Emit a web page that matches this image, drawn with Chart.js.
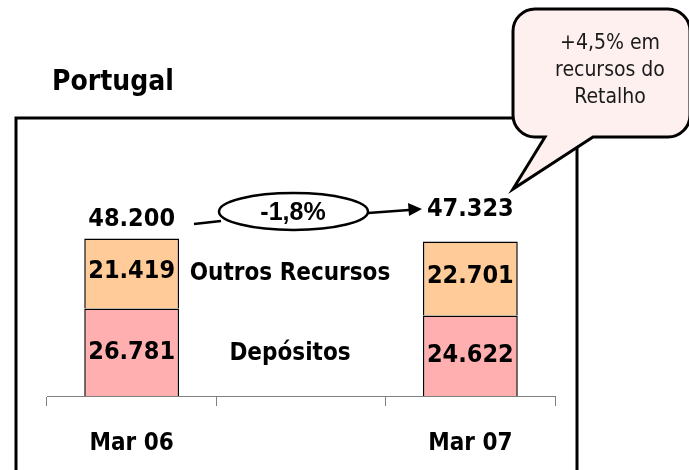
<!DOCTYPE html>
<html>
<head>
<meta charset="utf-8">
<script src="https://cdn.jsdelivr.net/npm/chart.js@4/dist/chart.umd.min.js"></script>
<style>
  html, body { margin: 0; padding: 0; background: #ffffff; }
  #chart { display: block; }
</style>
</head>
<body>
<canvas id="chart" width="689" height="470"></canvas>
<script>
// dados (milhares)
const categories = ["Mar 06", "", "Mar 07"];
const depositos = [26781, null, 24622];
const outrosRecursos = [21419, null, 22701];
const totais = [48200, null, 47323];
const seriesNames = ["Depósitos", "Outros Recursos"];
const variacao = "-1,8%";
const titulo = "Portugal";
const nota = ["+4,5% em", "recursos do", "Retalho"];

const FONT = '"DejaVu Sans Condensed", "DejaVu Sans", sans-serif';

// formato 26.781
function fmt(v) {
  const mil = Math.floor(v / 1000);
  const resto = String(v % 1000).padStart(3, "0");
  return mil + "." + resto;
}

// desenho extra: moldura, rótulos, elipse, balão
const decoracao = {
  id: "decoracao",
  beforeDraw(chart) {
    const ctx = chart.ctx;
    ctx.save();
    ctx.fillStyle = "#ffffff";
    ctx.fillRect(0, 0, chart.width, chart.height);
    ctx.strokeStyle = "#000000";
    ctx.lineWidth = 3;
    ctx.strokeRect(16, 118, 561, 380);
    ctx.fillStyle = "#000000";
    ctx.font = "bold 28px " + FONT;
    ctx.textAlign = "left";
    ctx.textBaseline = "middle";
    ctx.fillText(titulo, 52, 83);
    ctx.restore();
  },
  afterDatasetsDraw(chart) {
    const ctx = chart.ctx;
    const x = chart.scales.x;
    const y = chart.scales.y;
    ctx.save();
    ctx.fillStyle = "#000000";
    ctx.textAlign = "center";
    ctx.textBaseline = "middle";
    ctx.font = "bold 25px " + FONT;

    // valores dentro das barras
    categories.forEach((c, i) => {
      if (depositos[i] == null) return;
      const cx = x.getPixelForValue(i);
      const yd = (y.getPixelForValue(0) + y.getPixelForValue(depositos[i])) / 2;
      const yo = (y.getPixelForValue(depositos[i]) + y.getPixelForValue(depositos[i] + outrosRecursos[i])) / 2;
      ctx.fillText(fmt(depositos[i]), cx, yd);
      ctx.fillText(fmt(outrosRecursos[i]), cx, yo - 2);
    });

    // totais
    ctx.fillText(fmt(totais[0]), x.getPixelForValue(0), y.getPixelForValue(totais[0]) - 19);
    ctx.fillText(fmt(totais[2]), x.getPixelForValue(2), y.getPixelForValue(totais[2]) - 32);

    // nomes das séries na coluna do meio
    ctx.font = "bold 24px " + FONT;
    const mx = x.getPixelForValue(1) - 11;
    ctx.fillText(seriesNames[1], mx, (y.getPixelForValue(depositos[0]) + y.getPixelForValue(totais[0])) / 2);
    ctx.fillText(seriesNames[0], mx, (y.getPixelForValue(0) + y.getPixelForValue(depositos[0])) / 2 + 2);

    // elipse com variação
    ctx.strokeStyle = "#000000";
    ctx.lineWidth = 2.5;
    ctx.beginPath();
    ctx.moveTo(194, 224);
    ctx.lineTo(221, 221);
    ctx.stroke();
    ctx.beginPath();
    ctx.ellipse(293.5, 211.5, 74.5, 18.5, 0, 0, Math.PI * 2);
    ctx.stroke();
    ctx.beginPath();
    ctx.moveTo(368, 213);
    ctx.lineTo(409, 210);
    ctx.stroke();
    ctx.beginPath();
    ctx.moveTo(422, 209);
    ctx.lineTo(408, 203);
    ctx.lineTo(409, 216);
    ctx.closePath();
    ctx.fillStyle = "#000000";
    ctx.fill();
    ctx.font = 'bold 25px "Liberation Sans", Arial, sans-serif';
    ctx.fillText(variacao, 293, 213);

    // balão
    const l = 513, t = 9, r = 690, b = 137, rad = 22;
    ctx.beginPath();
    ctx.moveTo(l + rad, t);
    ctx.lineTo(r - rad, t);
    ctx.arcTo(r, t, r, t + rad, rad);
    ctx.lineTo(r, b - rad);
    ctx.arcTo(r, b, r - rad, b, rad);
    ctx.lineTo(593, b);
    ctx.lineTo(513, 189);
    ctx.lineTo(545, b);
    ctx.lineTo(l + rad, b);
    ctx.arcTo(l, b, l, b - rad, rad);
    ctx.lineTo(l, t + rad);
    ctx.arcTo(l, t, l + rad, t, rad);
    ctx.closePath();
    ctx.fillStyle = "#FFF0F0";
    ctx.fill();
    ctx.lineWidth = 3;
    ctx.stroke();
    ctx.fillStyle = "#1a1a1a";
    ctx.font = "21px " + FONT;
    ctx.fillText(nota[0], 610, 44);
    ctx.fillText(nota[1], 610, 71);
    ctx.fillText(nota[2], 610, 98);
    ctx.restore();
  }
};

document.addEventListener("DOMContentLoaded", function () {
  const ctx = document.getElementById("chart").getContext("2d");
  new Chart(ctx, {
    type: "bar",
    data: {
      labels: categories,
      datasets: [
        {
          label: seriesNames[0],
          data: depositos,
          backgroundColor: "#FFAFAF",
          borderColor: "#000000",
          borderWidth: 1.5
        },
        {
          label: seriesNames[1],
          data: outrosRecursos,
          backgroundColor: "#FFCC99",
          borderColor: "#000000",
          borderWidth: 1.5
        }
      ]
    },
    options: {
      responsive: false,
      animation: false,
      layout: { padding: { left: 47, right: 134, top: 200, bottom: 0 } },
      datasets: { bar: { barPercentage: 0.56, categoryPercentage: 1 } },
      plugins: { legend: { display: false }, tooltip: { enabled: false }, title: { display: false } },
      scales: {
        x: {
          stacked: true,
          afterFit: (scale) => { scale.height = 74; },
          grid: { drawOnChartArea: false, drawTicks: true, tickLength: 10, color: "#808080", lineWidth: 1 },
          border: { display: true, color: "#808080", width: 1 },
          ticks: { color: "#000000", padding: 23, font: { family: FONT, size: 24, weight: "bold" } }
        },
        y: {
          stacked: true,
          display: false,
          min: 0,
          max: 60000
        }
      }
    },
    plugins: [decoracao]
  });
});
</script>
</body>
</html>
